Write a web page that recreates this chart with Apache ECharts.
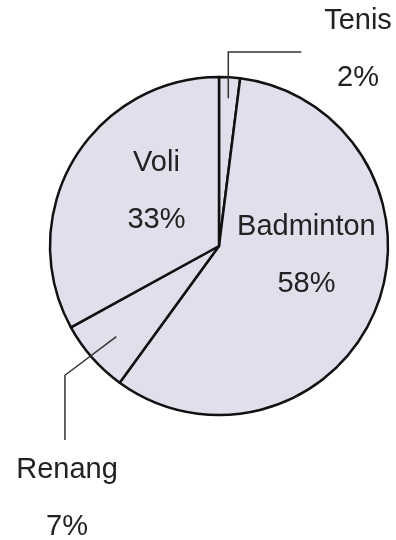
<!DOCTYPE html>
<html>
<head>
<meta charset="utf-8">
<script src="https://cdn.jsdelivr.net/npm/echarts@6/dist/echarts.min.js"></script>
<style>
  html, body { margin: 0; padding: 0; background: #fff; }
  #chart { width: 396px; height: 540px; }
</style>
</head>
<body>
<div id="chart"></div>
<script>
const categories = ["Tenis", "Badminton", "Renang", "Voli"];
const values = [2, 58, 7, 33];
const insideLabel = [false, true, false, true];

// pie geometry
const cx = 219, cy = 246, R = 169;
const polar = (deg, frac) => {
  const a = (deg * Math.PI) / 180;
  return [cx + R * frac * Math.sin(a), cy - R * frac * Math.cos(a)];
};

// label anchors
const labelSpots = [
  [358, 49],
  polar(96, 0.52),
  [67, 498],
  polar(311, 0.49),
];
// leader lines start a bit inside the slice
const lineStart = [0.876, 0, 0.81, 0];

const labelText = {
  formatter: "{b}\n{d}%",
  fontFamily: "Liberation Sans, Arial, sans-serif",
  fontSize: 29,
  lineHeight: 57,
  color: "#222",
  align: "center",
};

const placeLabel = (params) => {
  const i = params.dataIndex;
  const [x, y] = labelSpots[i];
  const out = { x, y, align: "center", verticalAlign: "middle" };
  if (i === 0) {
    const s = polar(3.6, lineStart[0]);
    const top = cy - 1.148 * R;
    out.labelLinePoints = [s, [s[0], top], [s[0] + 73, top]];
  } else if (i === 2) {
    const s = polar(228.6, lineStart[2]);
    const e = polar(230, 1.19);
    out.labelLinePoints = [s, e, [e[0], 440]];
  }
  return out;
};

const chart = echarts.init(document.getElementById("chart"), null, { renderer: "canvas" });

const base = {
  type: "pie",
  center: [cx, cy],
  radius: R,
  startAngle: 90,
  clockwise: true,
  avoidLabelOverlap: false,
  silent: true,
  labelLayout: placeLabel,
};

chart.setOption({
  backgroundColor: "#fff",
  animation: false,
  series: [
    {
      ...base,
      z: 1,
      itemStyle: { color: "#e2deeb", borderColor: "#111", borderWidth: 2.5 },
      data: categories.map((name, i) => ({
        name,
        value: values[i],
        label: { show: insideLabel[i], position: "inside", ...labelText },
        labelLine: { show: false },
      })),
    },
    {
      // transparent copy on top, carrying the outside labels and leader lines
      ...base,
      z: 5,
      itemStyle: { color: "rgba(0,0,0,0)", borderWidth: 0 },
      data: categories.map((name, i) => ({
        name,
        value: values[i],
        label: { show: !insideLabel[i], position: "outside", ...labelText },
        labelLine: {
          show: !insideLabel[i],
          lineStyle: { color: "#333", width: 1.5 },
        },
      })),
    },
  ],
});
</script>
</body>
</html>
